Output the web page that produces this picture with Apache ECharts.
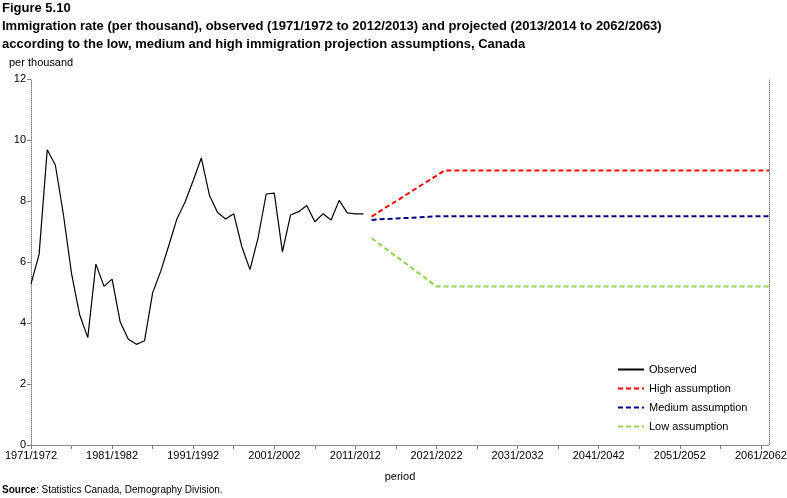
<!DOCTYPE html>
<html>
<head>
<meta charset="utf-8">
<script src="https://cdn.jsdelivr.net/npm/echarts@6/dist/echarts.min.js"></script>
<style>
  html, body { margin: 0; padding: 0; background: #fff; }
</style>
</head>
<body>
<div id="chartImmigration" style="width:787px;height:498px;"></div>
<script>
  // periods 1971/1972 .. 2062/2063
  var firstYear = 1971;
  var periodCount = 92;
  var periods = [];
  for (var i = 0; i < periodCount; i++) {
    periods.push((firstYear + i) + '/' + (firstYear + i + 1));
  }

  // observed 1971/1972 to 2012/2013
  var observed = [
    5.28, 6.25, 9.68, 9.18, 7.55, 5.62, 4.27, 3.52, 5.93, 5.20,
    5.44, 4.03, 3.47, 3.30, 3.42, 4.99, 5.70, 6.55, 7.42, 7.97,
    8.67, 9.41, 8.19, 7.62, 7.41, 7.58, 6.50, 5.75, 6.79, 8.23,
    8.26, 6.33, 7.54, 7.65, 7.85, 7.32, 7.58, 7.38, 8.02, 7.61,
    7.58, 7.58
  ];

  // projected 2013/2014 to 2062/2063
  var highAssumption = [
    7.49, 7.66, 7.83, 7.99, 8.16, 8.33, 8.50, 8.66, 8.83, 9.00,
    9.00, 9.00, 9.00, 9.00, 9.00, 9.00, 9.00, 9.00, 9.00, 9.00,
    9.00, 9.00, 9.00, 9.00, 9.00, 9.00, 9.00, 9.00, 9.00, 9.00,
    9.00, 9.00, 9.00, 9.00, 9.00, 9.00, 9.00, 9.00, 9.00, 9.00,
    9.00, 9.00, 9.00, 9.00, 9.00, 9.00, 9.00, 9.00, 9.00, 9.00
  ];
  var mediumAssumption = [
    7.38, 7.40, 7.41, 7.43, 7.44, 7.45, 7.47, 7.48, 7.50, 7.50,
    7.50, 7.50, 7.50, 7.50, 7.50, 7.50, 7.50, 7.50, 7.50, 7.50,
    7.50, 7.50, 7.50, 7.50, 7.50, 7.50, 7.50, 7.50, 7.50, 7.50,
    7.50, 7.50, 7.50, 7.50, 7.50, 7.50, 7.50, 7.50, 7.50, 7.50,
    7.50, 7.50, 7.50, 7.50, 7.50, 7.50, 7.50, 7.50, 7.50, 7.50
  ];
  var lowAssumption = [
    6.78, 6.58, 6.39, 6.19, 5.99, 5.79, 5.60, 5.40, 5.20, 5.20,
    5.20, 5.20, 5.20, 5.20, 5.20, 5.20, 5.20, 5.20, 5.20, 5.20,
    5.20, 5.20, 5.20, 5.20, 5.20, 5.20, 5.20, 5.20, 5.20, 5.20,
    5.20, 5.20, 5.20, 5.20, 5.20, 5.20, 5.20, 5.20, 5.20, 5.20,
    5.20, 5.20, 5.20, 5.20, 5.20, 5.20, 5.20, 5.20, 5.20, 5.20
  ];

  var yTicks = { min: 0, max: 12, interval: 2 };

  function padEnd(arr, len) {
    var out = arr.slice();
    while (out.length < len) out.push(null);
    return out;
  }
  function padStart(arr, len) {
    var out = arr.slice();
    while (out.length < len) out.unshift(null);
    return out;
  }

  var plain = "'Liberation Sans', Arial, sans-serif";
  var dotted = { color: '#808080', width: 1, type: 'dotted' };

  var myChart = echarts.init(document.getElementById('chartImmigration'));
  var option = {
    animation: false,
    backgroundColor: '#fff',
    title: [
      {
        text: 'Figure 5.10',
        left: 2, top: 0, padding: 0,
        textStyle: { fontFamily: plain, fontSize: 13, fontWeight: 'bold', color: '#000', lineHeight: 17 }
      },
      {
        text: 'Immigration rate (per thousand), observed (1971/1972 to 2012/2013) and projected (2013/2014 to 2062/2063)\naccording to the low, medium and high immigration projection assumptions, Canada',
        left: 2, top: 17, padding: 0,
        textStyle: { fontFamily: plain, fontSize: 13, fontWeight: 'bold', color: '#000', lineHeight: 18 }
      },
      {
        text: 'per thousand',
        left: 9, top: 57, padding: 0,
        textStyle: { fontFamily: plain, fontSize: 11, fontWeight: 'normal', color: '#000' }
      },
      {
        text: '{b|Source}: Statistics Canada, Demography Division.',
        left: 2, top: 485, padding: 0,
        textStyle: {
          fontFamily: plain, fontSize: 10, fontWeight: 'normal', color: '#000',
          rich: { b: { fontFamily: plain, fontSize: 10, fontWeight: 'bold', color: '#000' } }
        }
      }
    ],
    legend: {
      orient: 'vertical',
      left: 617,
      top: 364,
      padding: 0,
      itemWidth: 26,
      itemHeight: 8,
      itemGap: 8,
      data: ['Observed', 'High assumption', 'Medium assumption', 'Low assumption'],
      itemStyle: { opacity: 0 },
      textStyle: { fontFamily: plain, fontSize: 11, color: '#000' }
    },
    grid: { left: 31, right: 18, top: 79, bottom: 53, outerBoundsMode: 'none' },
    xAxis: [
      {
        type: 'category',
        data: periods,
        boundaryGap: false,
        name: 'period',
        nameLocation: 'middle',
        nameGap: 26,
        nameTextStyle: { fontFamily: plain, fontSize: 11, color: '#000' },
        axisLine: { lineStyle: dotted },
        axisTick: { show: true, interval: 4, length: 4, lineStyle: { color: '#808080' } },
        axisLabel: { interval: 9, fontFamily: plain, fontSize: 11, color: '#000', margin: 5 },
        splitLine: { show: false }
      },
      {
        type: 'category',
        data: periods,
        boundaryGap: false,
        position: 'top',
        axisLine: { lineStyle: dotted },
        axisTick: { show: false },
        axisLabel: { show: false },
        splitLine: { show: false }
      }
    ],
    yAxis: [
      {
        type: 'value',
        min: yTicks.min,
        max: yTicks.max,
        interval: yTicks.interval,
        axisLine: { show: true, lineStyle: dotted },
        axisTick: { show: true, length: 4, lineStyle: { color: '#808080' } },
        axisLabel: { fontFamily: plain, fontSize: 11, color: '#000', margin: 5 },
        splitLine: { show: false }
      },
      {
        type: 'value',
        min: yTicks.min,
        max: yTicks.max,
        interval: yTicks.interval,
        position: 'right',
        axisLine: { show: true, lineStyle: dotted },
        axisTick: { show: false },
        axisLabel: { show: false },
        splitLine: { show: false }
      }
    ],
    series: [
      {
        name: 'Observed',
        type: 'line',
        data: padEnd(observed, periodCount),
        symbol: 'none',
        color: '#000',
        lineStyle: { color: '#000', width: 1.2 }
      },
      {
        name: 'High assumption',
        type: 'line',
        data: padStart(highAssumption, periodCount),
        symbol: 'none',
        color: '#ff0000',
        lineStyle: { color: '#ff0000', width: 2, type: [5, 3] }
      },
      {
        name: 'Medium assumption',
        type: 'line',
        data: padStart(mediumAssumption, periodCount),
        symbol: 'none',
        color: '#000080',
        lineStyle: { color: '#000080', width: 2, type: [5, 3] }
      },
      {
        name: 'Low assumption',
        type: 'line',
        data: padStart(lowAssumption, periodCount),
        symbol: 'none',
        color: '#92d050',
        lineStyle: { color: '#92d050', width: 2, type: [5, 3] }
      }
    ]
  };
  myChart.setOption(option);
</script>
</body>
</html>
